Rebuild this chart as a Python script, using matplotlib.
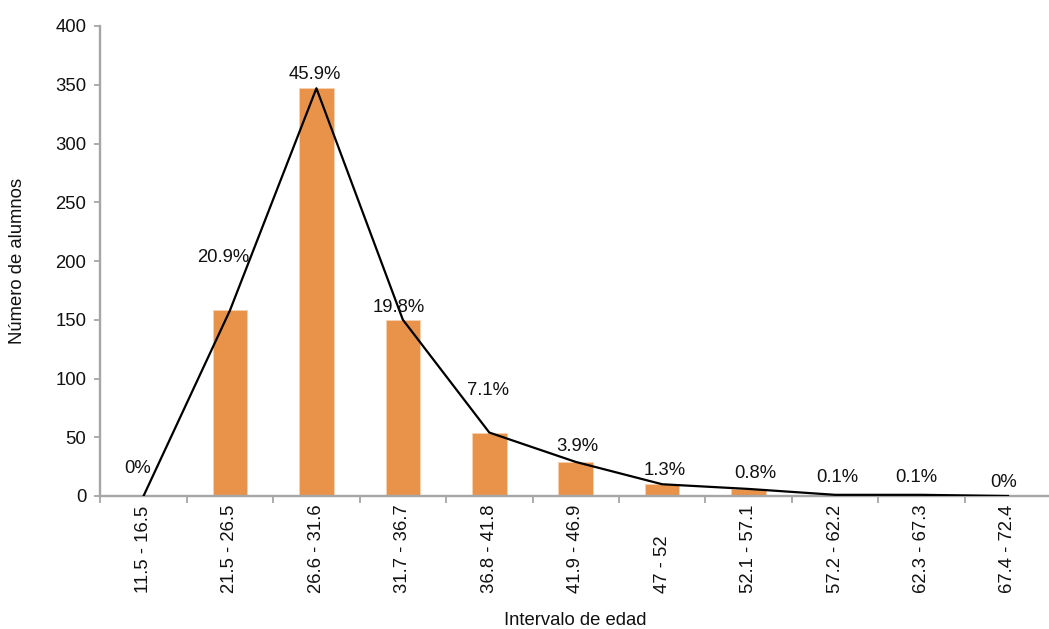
import matplotlib
matplotlib.use("Agg")
import matplotlib.pyplot as plt
import numpy as np

plt.rcParams["font.family"] = ["Liberation Sans", "DejaVu Sans"]

# age intervals and number of students in each one
intervals = ["11.5 - 16.5", "21.5 - 26.5", "26.6 - 31.6", "31.7 - 36.7",
             "36.8 - 41.8", "41.9 - 46.9", "47 - 52", "52.1 - 57.1",
             "57.2 - 62.2", "62.3 - 67.3", "67.4 - 72.4"]
alumnos = [0, 158, 347, 150, 54, 29, 10, 6, 1, 1, 0]
porcentajes = ["0%", "20.9%", "45.9%", "19.8%", "7.1%", "3.9%",
               "1.3%", "0.8%", "0.1%", "0.1%", "0%"]

# label offsets (points) so the tags sit near the polygon vertices
label_offsets = [(-4, 20), (-5, 38), (-1.5, 10), (-3, 9), (-1, 30), (1, 11),
                 (2, 10), (5, 11), (1.5, 12.5), (-4, 12.5), (-3, 10)]

BAR_COLOR = "#E9934A"
AXIS_GRAY = "#A6A6A6"
TEXT = "#111111"
FS = 13.3

fig = plt.figure(figsize=(10.49, 6.29), dpi=100)
ax = fig.add_axes([100.3 / 1049, 1 - 496 / 629, 950.9 / 1049, 470 / 629])

x = np.arange(len(intervals))
ax.bar(x, alumnos, width=0.4, color=BAR_COLOR, edgecolor="#F7D2B0",
       linewidth=0.6, zorder=2)
ax.plot(x, alumnos, color="black", linewidth=1.6, zorder=3)

for xi, yi, txt, off in zip(x, alumnos, porcentajes, label_offsets):
    ax.annotate(txt, (xi, yi), xytext=off, textcoords="offset points",
                ha="center", va="center", fontsize=FS, color=TEXT,
                zorder=4)

ax.set_xlim(-0.5, len(intervals) - 0.5)
ax.set_ylim(0, 400)
ax.set_yticks(np.arange(0, 401, 50))

# interval labels read upwards and share a common baseline at the bottom
ax.set_xticks(x)
ax.set_xticklabels(intervals, rotation=90, fontsize=FS, color=TEXT)
for lbl in ax.get_xticklabels():
    lbl.set_va("bottom")
ax.set_xticks(np.arange(-0.5, len(intervals), 1), minor=True)
ax.tick_params(axis="x", which="major", length=0, pad=70)
ax.tick_params(axis="x", which="minor", length=5, width=1.3, color=AXIS_GRAY,
               direction="out")
ax.tick_params(axis="y", length=4, width=1.3, color=AXIS_GRAY, pad=6,
               labelsize=FS, labelcolor=TEXT)

for side in ("top", "right"):
    ax.spines[side].set_visible(False)
for side in ("left", "bottom"):
    ax.spines[side].set_color(AXIS_GRAY)
    ax.spines[side].set_linewidth(1.7)

ax.set_xlabel("Intervalo de edad", fontsize=FS, color=TEXT)
ax.xaxis.label.set_va("center")
ax.xaxis.set_label_coords(0.5, -0.264)
ax.set_ylabel("Número de alumnos", fontsize=FS, color=TEXT)
ax.yaxis.label.set_va("center")
ax.yaxis.set_label_coords(-0.0866, 0.5)

fig.savefig("out.png", dpi=100)
